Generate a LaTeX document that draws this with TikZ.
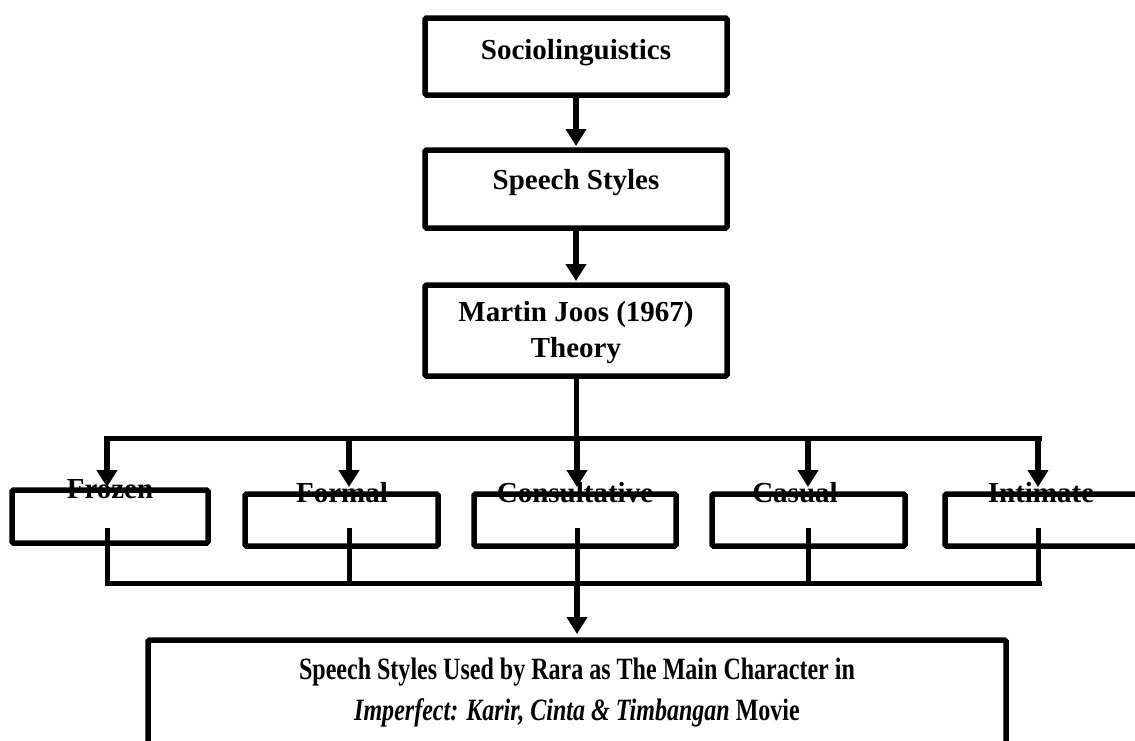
\documentclass[tikz,border=0pt]{standalone}
\usepackage{fontspec}
\setmainfont{Liberation Serif}
\usetikzlibrary{arrows.meta}
\begin{document}
\begin{tikzpicture}[x=1pt,y=-1pt,
  box/.style={draw,line width=5.5pt,rounded corners=1.5pt},
  lbl/.style={font=\fontsize{29}{36}\selectfont\bfseries,inner sep=0pt,align=center},
  biglbl/.style={font=\fontsize{31}{38}\selectfont\bfseries,inner sep=0pt,align=center},
  conn/.style={line width=5pt},
  arr/.style={line width=6pt,-{Triangle[length=17pt,width=20pt]}}]
\useasboundingbox (0,0) rectangle (1135,740);
% top chain boxes
\draw[box] (425,18) rectangle (727,95); \coordinate (socS) at (576,95);
\node[lbl] (soc) at (576,53) {Sociolinguistics};
\draw[box] (425,150) rectangle (727,228); \coordinate (ssN) at (576,150); \coordinate (ssS) at (576,228);
\node[lbl] (ss) at (576,183) {Speech Styles};
\draw[box] (425,285) rectangle (727,376); \coordinate (mjN) at (576,285); \coordinate (mjS) at (576,376);
\node[lbl] (mj) at (576,333) {Martin Joos (1967)\\Theory};
\draw[arr] (socS) -- (576,146) coordinate (a1);
\draw[arr] (ssS) -- (576,281) coordinate (a2);
% distribution bar
\coordinate (bar) at (576,438);
\draw[conn] (mjS) -- (bar);
\draw[conn] (105,438) coordinate (barL) -- (1042,438) coordinate (barR);
% row boxes
\draw[box] (12,490) rectangle (208,543);
\draw[box] (245,494) rectangle (438,546);
\draw[box] (474,494) rectangle (676,546);
\draw[box] (712,494) rectangle (905,546);
\draw[box] (945,494) rectangle (1150,546);
\foreach \x/\n in {107/fz,349/fm,577/cs,808/ca,1038/im}{
  \draw[arr] (\x,436) -- (\x,487) coordinate (\n T);
  \draw[conn] (\x,528) coordinate (\n B) -- (\x,585);
}
\node[lbl] (fz) at (110,489) {Frozen};
\node[lbl] (fm) at (342,493) {Formal};
\node[lbl] (cs) at (575,493) {Consultative};
\node[lbl] (ca) at (795,493) {Casual};
\node[lbl] (im) at (1041,493) {Intimate};
% collecting bar
\draw[conn] (105,583) coordinate (cbL) -- (1042,583) coordinate (cbR);
\coordinate (cb) at (577,583);
\draw[arr] (cb) -- (577,634) coordinate (botN);
% bottom box
\draw[box] (148,640) rectangle (1006,770);
\node[biglbl] (res) at (577,693) {\scalebox{0.775}[1]{Speech Styles Used by Rara as The Main Character in}\\[3pt]\scalebox{0.775}[1]{\textit{Imperfect: Karir, Cinta \& Timbangan} Movie}};
\end{tikzpicture}
\end{document}
